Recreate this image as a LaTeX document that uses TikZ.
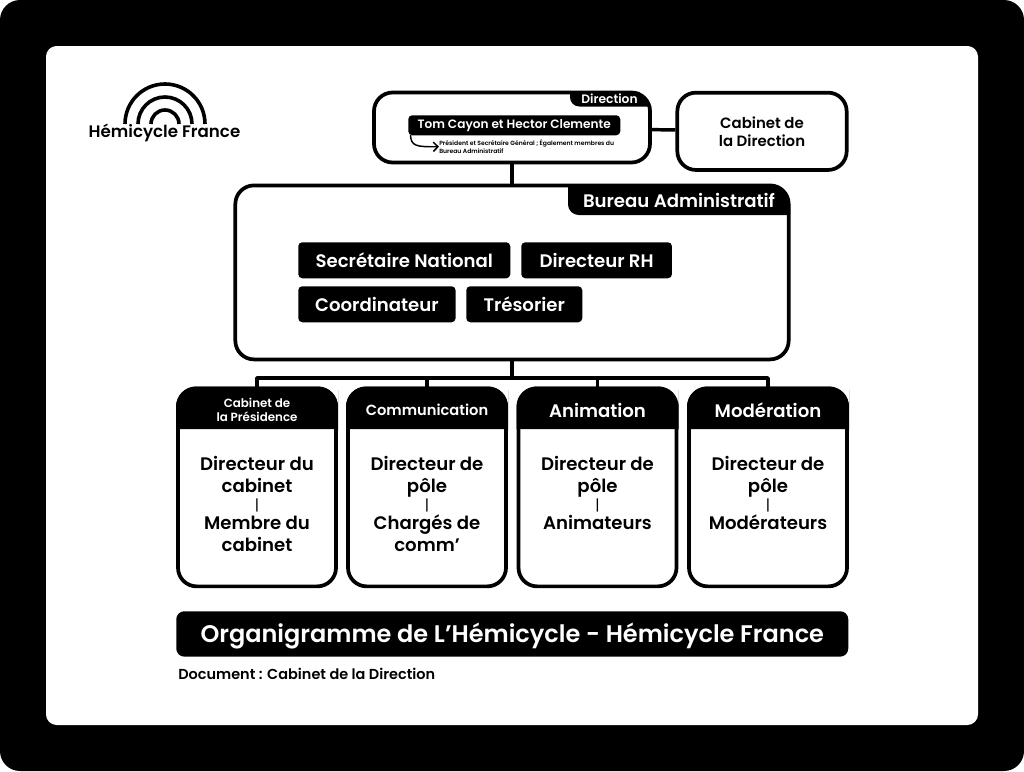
\documentclass[tikz,border=0pt]{standalone}
\usepackage{fontspec}
\setmainfont{Poppins}[BoldFont={Poppins SemiBold}]
\usetikzlibrary{arrows.meta,calc}
\definecolor{org}{RGB}{0,0,0}
\newcommand{\fs}[2]{\fontsize{#1}{#2}\selectfont\bfseries}
\newcommand{\barre}{{\fontsize{11}{11}\selectfont\mdseries|}}
\begin{document}
\begin{tikzpicture}[x=0.75pt, y=-0.75pt, line join=round,
  box/.style={draw=org, line width=2.8pt, rounded corners=14pt, fill=white, inner sep=0pt},
  polebox/.style={box, minimum width=118.5pt, minimum height=148.5pt, anchor=north},
  tag/.style={fill=org, text=white, rounded corners=3pt, inner sep=0pt, anchor=north west},
  head/.style={text=white, align=center, anchor=center},
  tagbig/.style={head, font=\fs{13.6}{16}},
  headbig/.style={head, font=\fs{13.6}{16}},
  poletxt/.style={text=org, align=center, anchor=north, font=\fs{13.6}{16.5}},
  lnk/.style={draw=org, line width=2.6pt},
  arche/.style={draw=org, line width=2.7pt}]
\useasboundingbox (0,0) rectangle (1024,771);
\fill[org, rounded corners=15pt] (0,0) rectangle (1024,771);
\fill[white, rounded corners=8pt] (46,46) rectangle (978,725);
% logo
\draw[arche] (125,124) arc[start angle=180, end angle=360, radius=40];
\draw[arche] (138,124) arc[start angle=180, end angle=360, radius=27];
\draw[arche] (151,124) arc[start angle=180, end angle=360, radius=14];
\node[text=org, font=\fs{12.5}{14}] (logo) at (164.5,133) {Hémicycle France};
% top row
\node[box, minimum width=207pt, minimum height=52.5pt] (dir) at (512,127.5) {};
\node[box, minimum width=127pt, minimum height=58pt, align=center, font=\fs{11.2}{13.5}] (cab) at (762,131.3) {Cabinet de\\la Direction};
\node[box, minimum width=415pt, minimum height=130.5pt] (bur) at (512,272.4) {};
\draw[lnk] (dir) -- (bur);
\draw[lnk] (dir) -- (cab);
\fill[org] (570,91) {[rounded corners=7pt] -- (570,106.5) -- (600,106.5)} -- (651,106.5) -- (651,105) {[rounded corners=15pt] -- (651,91) -- (620,91)} -- cycle;
\node[head, font=\fs{9.2}{10}] (dirlbl) at (609.5,98.5) {Direction};
\node[tag, minimum width=159pt, minimum height=15pt] (noms) at (408,115) {};
\node[head, font=\fs{9.1}{10}] at (noms) {Tom Cayon et Hector Clemente};
\node[anchor=north west, inner sep=0pt, text=org, align=left, font=\fs{4.55}{6}] (role) at (439,139.5) {Président et Secrétaire Général ; Également membres du\\Bureau Administratif};
\draw[org, line width=1.1pt, -{Straight Barb[length=3.5pt,width=7pt]}] (410.5,135) .. controls (411,146) and (416,147) .. (role.west);
% bureau
\fill[org] (568,184) {[rounded corners=8pt] -- (568,215) -- (620,215)} -- (790,215) -- (790,205) {[rounded corners=15pt] -- (790,184) -- (700,184)} -- cycle;
\node[headbig] (burlbl) at (679,200) {Bureau Administratif};
\node[tag, minimum width=159pt, minimum height=27pt] (sn) at (298,242) {};
\node[tagbig] at (sn) {Secrétaire National};
\node[tag, minimum width=113pt, minimum height=27pt] (rh) at (521,242) {};
\node[tagbig] at (rh) {Directeur RH};
\node[tag, minimum width=118pt, minimum height=27pt] (coord) at (298,286) {};
\node[tagbig] at (coord) {Coordinateur};
\node[tag, minimum width=87pt, minimum height=27pt] (tres) at (466,286) {};
\node[tagbig] at (tres) {Trésorier};
% poles
\coordinate (bus) at (512,378);
\node[polebox] (p1) at (257,386.5) {};
\node[polebox] (p2) at (427,386.5) {};
\node[polebox] (p3) at (597.5,386.5) {};
\node[polebox] (p4) at (768,386.5) {};
\draw[lnk] (bur) -- (bus);
\draw[lnk] (bus) -| (p1.north);
\draw[lnk] (bus) -| (p2.north);
\draw[lnk] (bus) -| (p3.north);
\draw[lnk] (bus) -| (p4.north);
\fill[org] (176,429) -- (176,410) {[rounded corners=15pt] -- (176,386.5) -- (338,386.5) -- (338,410)} -- (338,429) -- cycle;
\fill[org] (346,429) -- (346,410) {[rounded corners=15pt] -- (346,386.5) -- (508,386.5) -- (508,410)} -- (508,429) -- cycle;
\fill[org] (516.5,429) -- (516.5,410) {[rounded corners=15pt] -- (516.5,386.5) -- (678.5,386.5) -- (678.5,410)} -- (678.5,429) -- cycle;
\fill[org] (687,429) -- (687,410) {[rounded corners=15pt] -- (687,386.5) -- (849,386.5) -- (849,410)} -- (849,429) -- cycle;
\node[head, font=\fs{8.9}{10.5}] (h1) at (257,409.5) {Cabinet de\\la Présidence};
\node[head, font=\fs{11}{13}] (h2) at (427,409.5) {Communication};
\node[headbig] (h3) at (597.5,410) {Animation};
\node[headbig] (h4) at (768,410) {Modération};
\node[poletxt] (t1) at (257,452) {Directeur du\\cabinet\\[-3pt]\barre\\[-2.5pt]Membre du\\cabinet};
\node[poletxt] (t2) at (427,452) {Directeur de\\pôle\\[-3pt]\barre\\[-2.5pt]Chargés de\\comm’};
\node[poletxt] (t3) at (597.5,452) {Directeur de\\pôle\\[-3pt]\barre\\[-2.5pt]Animateurs};
\node[poletxt] (t4) at (768,452) {Directeur de\\pôle\\[-3pt]\barre\\[-2.5pt]Modérateurs};
% bas de page
\node[tag, rounded corners=6pt, minimum width=504pt, minimum height=34pt] (titre) at (176,611) {};
\node[head, font=\fs{18}{22}] at ($(titre)+(0,2)$) {Organigramme de L’Hémicycle - Hémicycle France};
\node[anchor=west, text=org, inner sep=0pt, font=\fs{10.85}{12}] (doc) at (178,674) {Document : Cabinet de la Direction};
\end{tikzpicture}
\end{document}
